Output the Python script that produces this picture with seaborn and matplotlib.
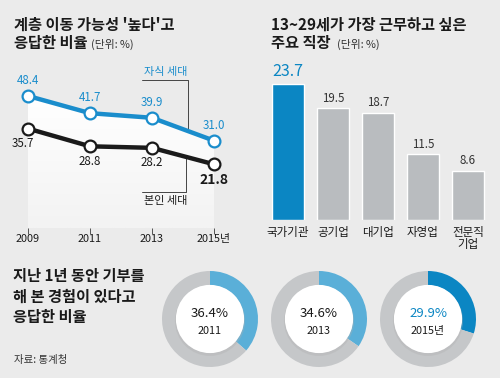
import numpy as np
import matplotlib
matplotlib.use("Agg")
import matplotlib.pyplot as plt
from matplotlib.colors import LinearSegmentedColormap
from matplotlib.patches import Circle
import seaborn as sns

# --- DATA ---
years = [2009, 2011, 2013, 2015]
year_labels = ["2009", "2011", "2013", "2015년"]
child_gen = [48.4, 41.7, 39.9, 31.0]   # 자식 세대
self_gen = [35.7, 28.8, 28.2, 21.8]    # 본인 세대

jobs = ["국가기관", "공기업", "대기업", "자영업", "전문직\n기업"]
job_pct = [23.7, 19.5, 18.7, 11.5, 8.6]

donate_years = ["2011", "2013", "2015년"]
donate_pct = [36.4, 34.6, 29.9]

# --- STYLE ---
BG = "#ebebeb"
BLUE = "#0b86c3"
LINE_BLUE = "#1a8dcc"
LIGHT_BLUE = "#5aafd8"
GRAY = "#b9bcbf"
RING_GRAY = "#c5c7c9"
DARK = "#1a1a1a"

sns.set_theme(style="white")
plt.rcParams['font.family'] = ['Noto Sans CJK KR', 'DejaVu Sans']

W, H = 500, 378
fig = plt.figure(figsize=(W / 100, H / 100), dpi=100, facecolor=BG)


def box(l, t, r, b):
    return [l / W, 1 - b / H, (r - l) / W, (b - t) / H]


def px(x, y):
    return x / W, 1 - y / H


TITLE = dict(fontsize=11, fontweight='bold', color=DARK, va='center')
UNIT = dict(fontsize=7.8, color="#333333", va='center')

# titles
fig.text(*px(14, 25), "계층 이동 가능성 '높다'고", **TITLE)
fig.text(*px(14, 43), "응답한 비율", **TITLE)
fig.text(*px(91, 44), "(단위: %)", **UNIT)

fig.text(*px(271, 25), "13~29세가 가장 근무하고 싶은", **TITLE)
fig.text(*px(271, 43), "주요 직장", **TITLE)
fig.text(*px(337, 44), "(단위: %)", **UNIT)

fig.text(*px(13, 276), "지난 1년 동안 기부를", **TITLE)
fig.text(*px(13, 297), "해 본 경험이 있다고", **TITLE)
fig.text(*px(13, 317), "응답한 비율", **TITLE)
fig.text(*px(14, 360), "자료: 통계청", fontsize=7.5, color="#333333", va='center')

# --- LINE CHART ---
ax = fig.add_axes(box(28, 60, 214, 228))
ax.set_facecolor("none")
ax.set_xlim(2009, 2015)
ax.set_ylim(-3.0, 62.4)

# white gradient area under the upper line
poly = ax.fill_between(years, child_gen, -3.0, facecolor="none", linewidth=0)
grad = np.linspace(0, 1, 100).reshape(-1, 1)
cmap = LinearSegmentedColormap.from_list("g", ["#ffffff", "#f3f3f3"])
im = ax.imshow(grad, extent=[2009, 2015, -3.0, max(child_gen)], aspect='auto',
               cmap=cmap, origin='upper', zorder=0)
im.set_clip_path(poly.get_paths()[0], transform=ax.transData)

for vals, col in [(child_gen, LINE_BLUE), (self_gen, DARK)]:
    sns.lineplot(x=years, y=vals, color=col, linewidth=3.2, marker='o', markersize=8.5,
                 markerfacecolor='white', markeredgecolor=col, markeredgewidth=1.6,
                 ax=ax, clip_on=False, zorder=3)

for i, (x, v) in enumerate(zip(years, child_gen)):
    ax.annotate(f"{v:.1f}", (x, v), xytext=(0, 6.5), textcoords='offset points',
                ha='center', va='bottom', fontsize=8.3, color=LINE_BLUE)
for i, (x, v) in enumerate(zip(years, self_gen)):
    dx = -4 if i == 0 else 0
    big = i == len(years) - 1
    ax.annotate(f"{v:.1f}", (x, v), xytext=(dx, -6), textcoords='offset points',
                ha='center', va='top', fontsize=10 if big else 8.3,
                fontweight='bold' if big else 'normal', color=DARK)

# leader lines
xc = 2014.16
yc = np.interp(xc, years, child_gen)
ax.plot([2012.68, xc, xc], [54.6, 54.6, yc], color="#444444", lw=0.7, zorder=2)
ax.text(2013.45, 57.8, "자식 세대", fontsize=8, color=LINE_BLUE, ha='center', va='center')
xs = 2014.10
ys = np.interp(xs, years, self_gen)
ax.plot([xs, xs, 2012.68], [ys, 11.0, 11.0], color="#444444", lw=0.7, zorder=2)
ax.text(2013.45, 7.4, "본인 세대", fontsize=8, color=DARK, ha='center', va='center')

ax.set_xticks(years)
ax.set_xticklabels(year_labels, fontsize=7.8, color=DARK)
ax.set_yticks([])
ax.tick_params(axis='x', length=4, width=0.7, color="#555555", pad=0.5, bottom=True)
sns.despine(ax=ax, left=True, bottom=True)
ax.set_xlabel("")
ax.set_ylabel("")

# --- BAR CHART ---
bx = fig.add_axes(box(265.5, 60, 490.5, 220))
bx.set_facecolor("none")
bar_cols = [BLUE] + [GRAY] * (len(jobs) - 1)
sns.barplot(x=jobs, y=job_pct, hue=jobs, palette=bar_cols, legend=False,
            width=0.69, saturation=1, ax=bx)
bx.set_xlim(-0.5, len(jobs) - 0.5)
bx.set_ylim(0, 27.87)
for i, v in enumerate(job_pct):
    first = i == 0
    bx.annotate(f"{v:.1f}", (i, v), xytext=(0, 3 if first else 2.5), textcoords='offset points',
                ha='center', va='bottom', fontsize=11.5 if first else 8.3,
                color=BLUE if first else "#333333")
bx.set_yticks([])
bx.set_xticks(range(len(jobs)))
bx.set_xticklabels(jobs, fontsize=8.3, color=DARK, va='top', linespacing=0.95)
bx.tick_params(axis='x', length=0, pad=4)
sns.despine(ax=bx, left=True, bottom=True)
bx.set_xlabel("")
bx.set_ylabel("")

# --- DONUTS ---
centers = [210, 319, 428]
for k, (cx, yr, p) in enumerate(zip(centers, donate_years, donate_pct)):
    dx = fig.add_axes(box(cx - 48, 271, cx + 48, 367))
    dx.set_facecolor("none")
    col = BLUE if k == len(centers) - 1 else LIGHT_BLUE
    dx.pie([p, 100 - p], colors=[col, RING_GRAY], startangle=90, counterclock=False,
           radius=1, wedgeprops=dict(width=0.30, linewidth=0))
    dx.add_patch(Circle((0.0, -0.04), 0.73, color="#b0b0b0", alpha=0.35, zorder=4, lw=0))
    dx.add_patch(Circle((0, 0), 0.71, color="white", zorder=5, lw=0))
    dx.text(0, 0.12, f"{p:.1f}%", ha='center', va='center', fontsize=9.5,
            color=BLUE if k == len(centers) - 1 else DARK, zorder=6)
    dx.text(0, -0.24, yr, ha='center', va='center', fontsize=7.8, color=DARK, zorder=6)
    dx.set_xlim(-1, 1)
    dx.set_ylim(-1, 1)
    dx.set_aspect('equal')
    dx.axis('off')

fig.savefig("out.png", dpi=100, facecolor=BG)
